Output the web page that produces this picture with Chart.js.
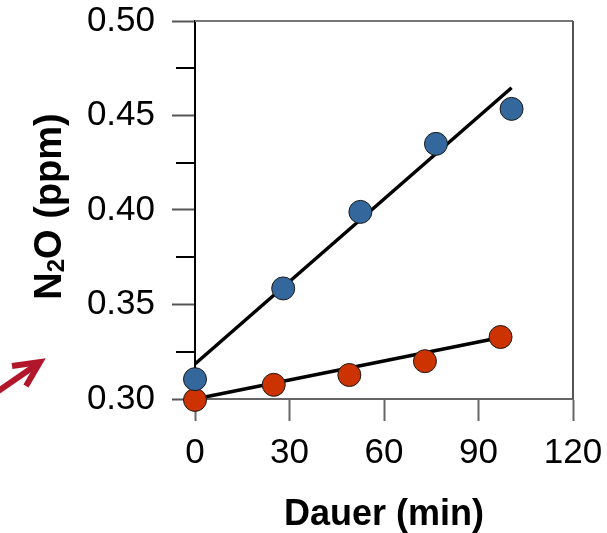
<!DOCTYPE html>
<html>
<head>
<meta charset="utf-8">
<script src="https://cdn.jsdelivr.net/npm/chart.js@4"></script>
<style>
  body { margin: 0; background: #fff; }
  #wrap { width: 607px; height: 533px; }
</style>
</head>
<body>
<div id="wrap"><canvas id="chart" width="607" height="533"></canvas></div>
<script>
// Messwerte (Dauer in min, N2O in ppm)
const timeBlue = [0, 28, 52.5, 76.5, 100.5];
const n2oBlue = [0.3105, 0.3585, 0.399, 0.435, 0.4535];
const timeRed = [0, 25, 49, 73, 97];
const n2oRed = [0.2995, 0.3075, 0.3127, 0.320, 0.3328];

// Regressionsgeraden (Anfang / Ende)
const fitBlueX = [0, 100.5];
const fitBlueY = [0.3185, 0.4647];
const fitRedX = [0, 97];
const fitRedY = [0.300, 0.3325];

// Achsen
const xTicks = [0, 30, 60, 90, 120];
const yTicks = [0.30, 0.35, 0.40, 0.45, 0.50];

const FONT = "'Liberation Sans', Arial, sans-serif";

function toPoints(xs, ys) {
   return xs.map((x, i) => ({ x: x, y: ys[i] }));
}

function isMajorY(v) {
   return Math.round(v * 1000) % 50 === 0;
}

// Rahmen oben/rechts, kleine Ticks, Y-Titel mit Index, Pfeil
const extras = {
   id: "extras",
   beforeDatasetsDraw(chart) {
      const ctx = chart.ctx;
      const a = chart.chartArea;
      const ys = chart.scales.y;
      ctx.save();
      ctx.lineWidth = 2;
      ctx.strokeStyle = "#777";
      ctx.beginPath();
      ctx.moveTo(a.left, a.top);
      ctx.lineTo(a.right, a.top);
      ctx.stroke();
      ctx.strokeStyle = "#555";
      ctx.beginPath();
      ctx.moveTo(a.right, a.top);
      ctx.lineTo(a.right, a.bottom);
      ctx.stroke();
      // Zwischen-Ticks (kürzer, schwarz)
      ctx.strokeStyle = "#000";
      ys.ticks.forEach((t) => {
         if (isMajorY(t.value)) return;
         const py = Math.round(ys.getPixelForValue(t.value));
         ctx.beginPath();
         ctx.moveTo(a.left - 19, py);
         ctx.lineTo(a.left, py);
         ctx.stroke();
      });
      ctx.restore();
   },
   afterDraw(chart) {
      const ctx = chart.ctx;
      ctx.save();
      // Y-Achsentitel: N2O (ppm) mit tiefgestellter 2
      ctx.translate(61, 206.5);
      ctx.rotate(-Math.PI / 2);
      ctx.fillStyle = "#000";
      ctx.textBaseline = "alphabetic";
      ctx.textAlign = "left";
      const big = "bold 38px " + FONT;
      const small = "bold 24px " + FONT;
      ctx.font = big;
      const wN = ctx.measureText("N").width;
      const wRest = ctx.measureText("O (ppm)").width;
      ctx.font = small;
      const w2 = ctx.measureText("2").width;
      let x = -(wN + w2 + wRest) / 2;
      ctx.font = big;
      ctx.fillText("N", x, 0);
      x += wN;
      ctx.font = small;
      ctx.fillText("2", x, 3);
      x += w2;
      ctx.font = big;
      ctx.fillText("O (ppm)", x, 0);
      ctx.restore();

      // roter Pfeil links
      ctx.save();
      ctx.strokeStyle = "#b2162b";
      ctx.lineWidth = 6;
      ctx.lineJoin = "miter";
      ctx.lineCap = "butt";
      ctx.beginPath();
      ctx.moveTo(-6, 394);
      ctx.lineTo(39, 363);
      ctx.stroke();
      ctx.beginPath();
      ctx.moveTo(12, 366);
      ctx.lineTo(40, 362);
      ctx.lineTo(26, 386);
      ctx.stroke();
      ctx.restore();
   },
};

new Chart(document.getElementById("chart"), {
   type: "scatter",
   data: {
      datasets: [
         {
            data: toPoints(timeBlue, n2oBlue),
            backgroundColor: "#34679c",
            borderColor: "#1a1a1a",
            borderWidth: 1,
            pointRadius: 11.5,
            pointHoverRadius: 11.5,
            clip: false,
            order: 1,
         },
         {
            data: toPoints(timeRed, n2oRed),
            backgroundColor: "#cc3300",
            borderColor: "#1a1a1a",
            borderWidth: 1,
            pointRadius: 11.5,
            pointHoverRadius: 11.5,
            clip: false,
            order: 1,
         },
         {
            type: "line",
            data: toPoints(fitBlueX, fitBlueY),
            borderColor: "#000",
            borderWidth: 3.5,
            pointRadius: 0,
            fill: false,
            clip: false,
            order: 2,
         },
         {
            type: "line",
            data: toPoints(fitRedX, fitRedY),
            borderColor: "#000",
            borderWidth: 3.5,
            pointRadius: 0,
            fill: false,
            clip: false,
            order: 2,
         },
      ],
   },
   options: {
      responsive: false,
      animation: false,
      events: [],
      layout: {
         padding: { top: 21, right: 34, left: 0, bottom: 0 },
      },
      scales: {
         x: {
            type: "linear",
            min: xTicks[0],
            max: xTicks[xTicks.length - 1],
            afterFit(scale) {
               scale.height = 134;
               scale.paddingLeft = 0;
               scale.paddingRight = 0;
            },
            afterBuildTicks(scale) {
               scale.ticks = xTicks.map((v) => ({ value: v }));
            },
            ticks: {
               font: { family: FONT, size: 35 },
               color: "#000",
               padding: 11,
               maxRotation: 0,
               autoSkip: false,
            },
            grid: {
               drawOnChartArea: false,
               tickLength: 22,
               tickColor: "#666",
               tickWidth: 2,
            },
            border: { color: "#666", width: 2 },
            title: {
               display: true,
               text: "Dauer (min)",
               color: "#000",
               font: { family: FONT, size: 36, weight: "bold", lineHeight: 1.0 },
               padding: 0,
            },
         },
         y: {
            type: "linear",
            min: yTicks[0],
            max: yTicks[yTicks.length - 1],
            afterFit(scale) {
               scale.width = 195;
               scale.paddingTop = 0;
               scale.paddingBottom = 0;
            },
            ticks: {
               stepSize: 0.025,
               font: { family: FONT, size: 35 },
               color: "#000",
               padding: 17,
               autoSkip: false,
               callback: function (value) {
                  return isMajorY(value) ? value.toFixed(2) : "";
               },
            },
            grid: {
               drawOnChartArea: false,
               tickLength: 23,
               tickWidth: 2,
               tickColor: (c) => (c.tick && isMajorY(c.tick.value) ? "#555" : "rgba(0,0,0,0)"),
            },
            border: { color: "#000", width: 2 },
         },
      },
      plugins: {
         legend: { display: false },
         tooltip: { enabled: false },
      },
   },
   plugins: [extras],
});
</script>
</body>
</html>
